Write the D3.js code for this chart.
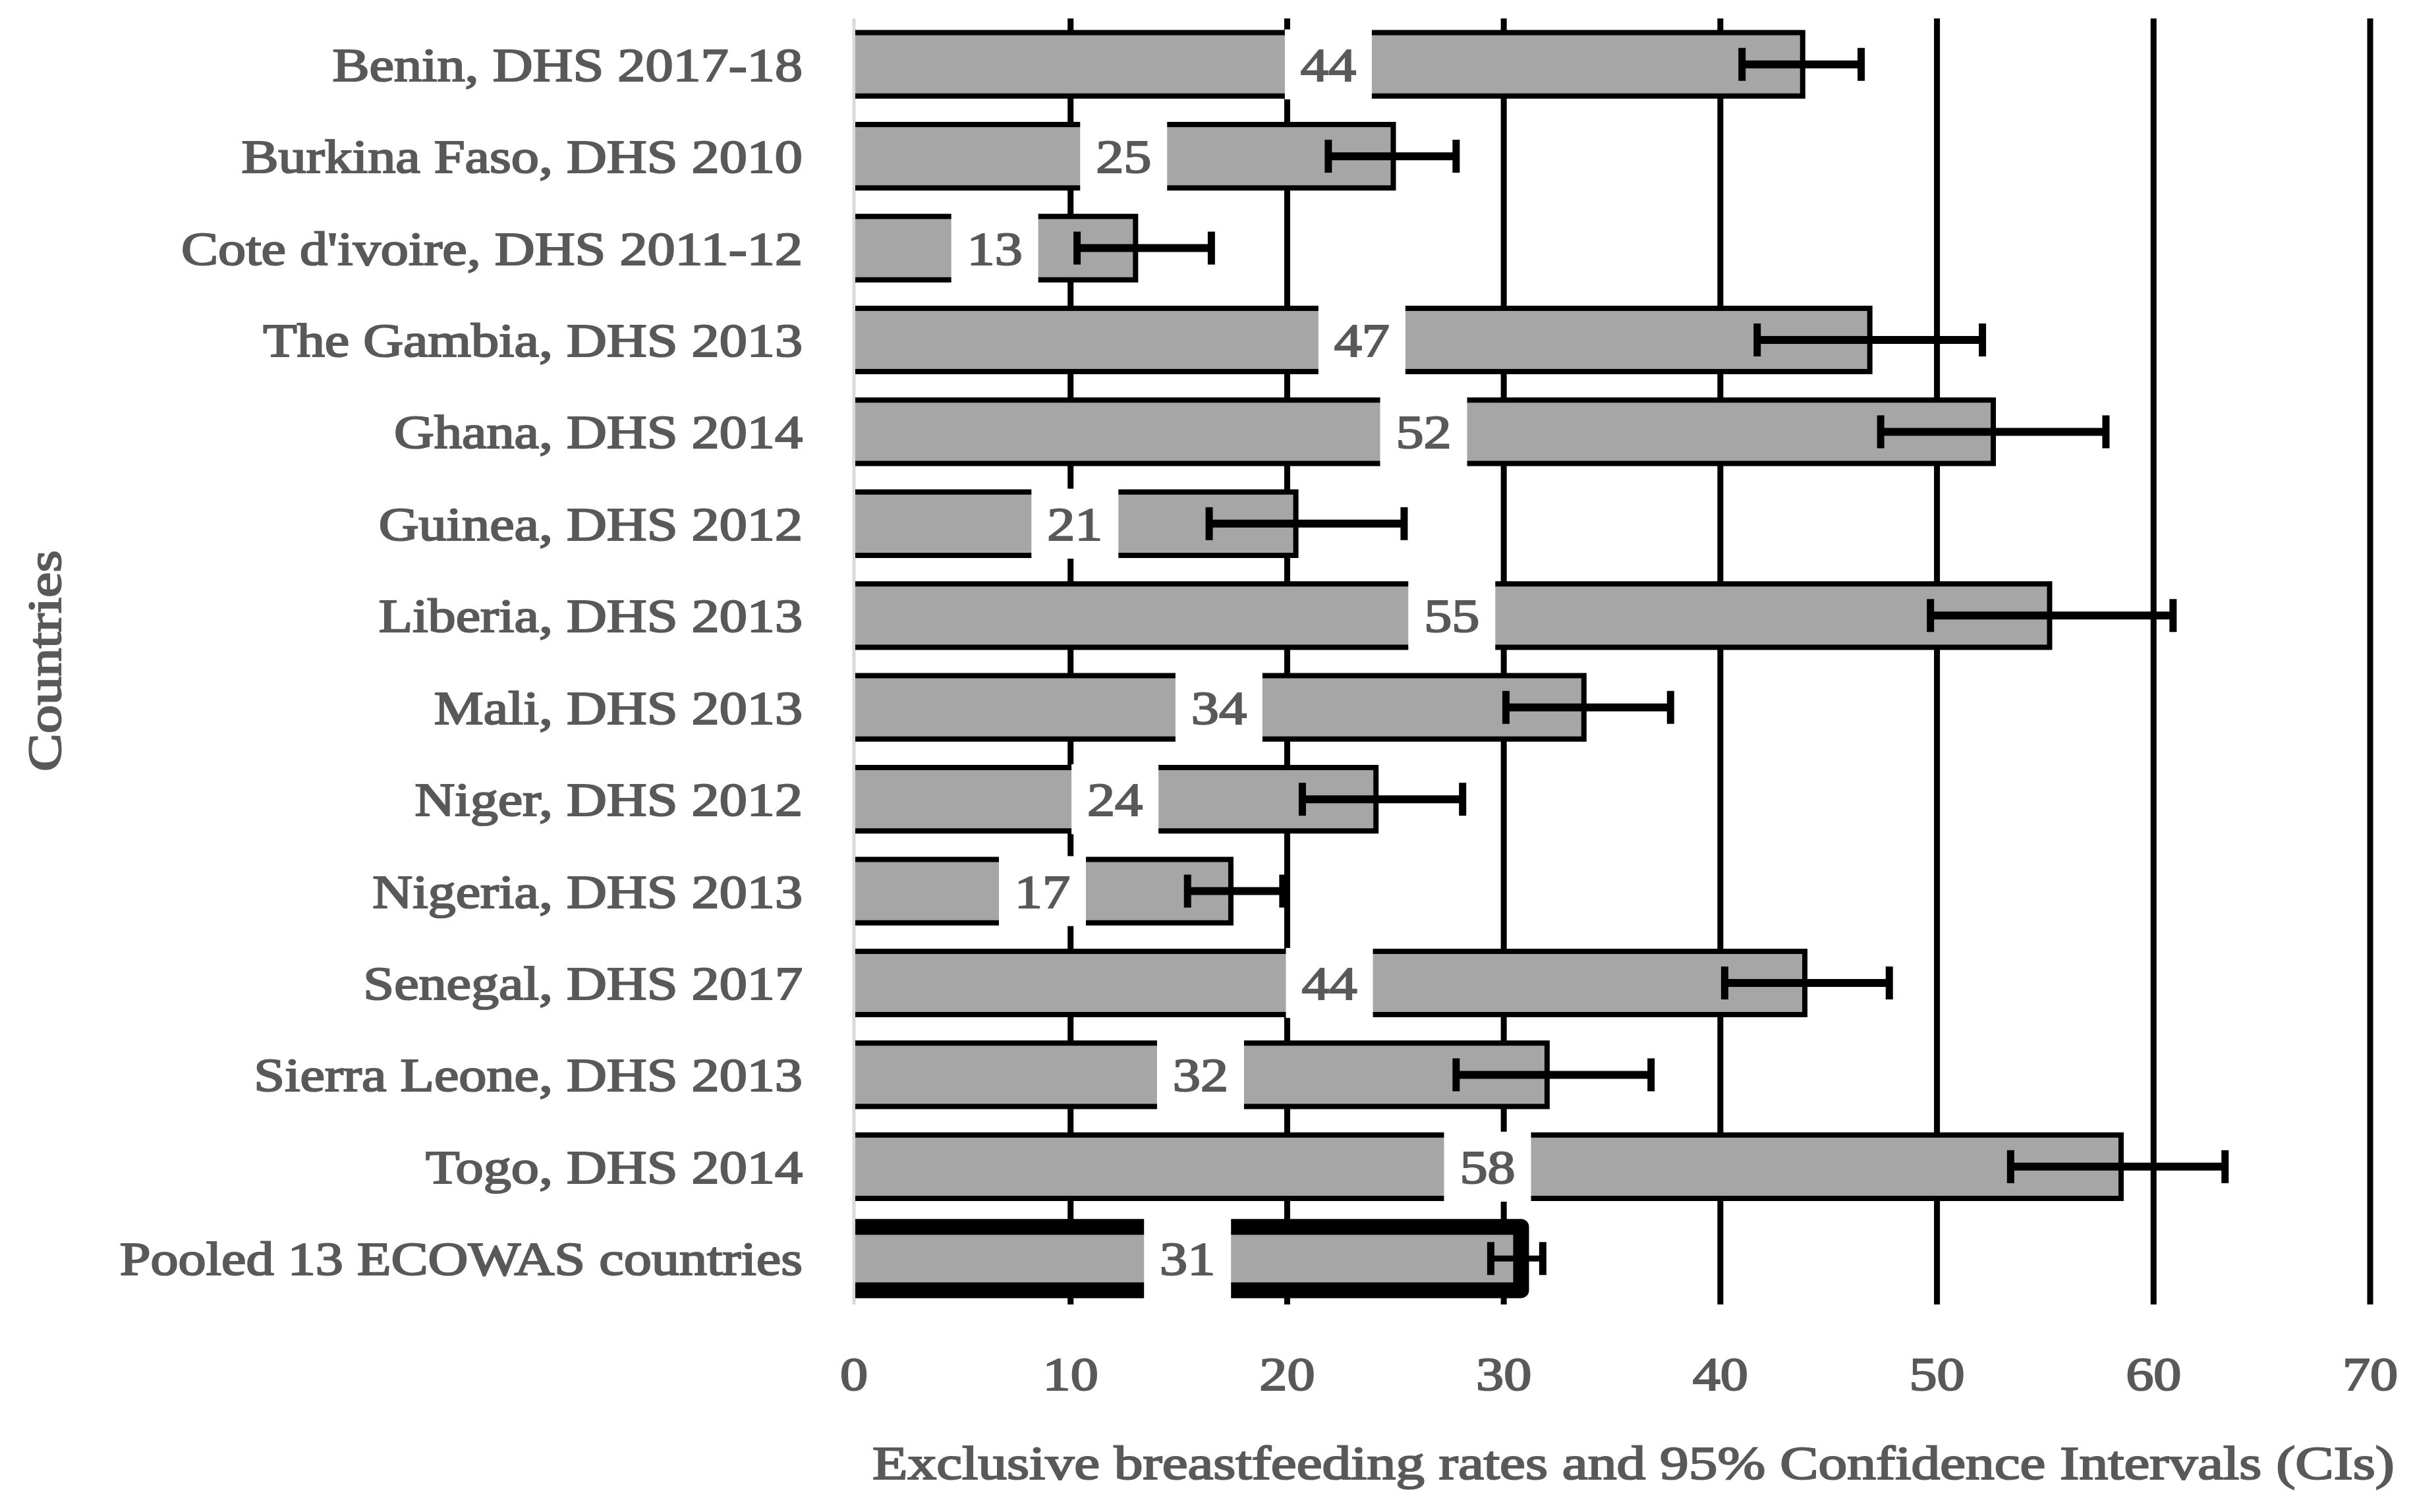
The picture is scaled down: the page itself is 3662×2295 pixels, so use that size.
<!DOCTYPE html>
<html>
<head>
<meta charset="utf-8">
<script src="https://cdn.jsdelivr.net/npm/d3@7"></script>
<style>
  html, body { margin: 0; padding: 0; background: #fff; }
  svg { display: block; }
  text { font-family: "Liberation Serif", "Times New Roman", serif; fill: #595959; stroke: #595959; stroke-width: 2.2px; }
</style>
</head>
<body>
<svg id="chart" width="3662" height="2295"></svg>
<script>
const categories = [
  "Benin, DHS 2017-18",
  "Burkina Faso, DHS 2010",
  "Cote d'ivoire, DHS 2011-12",
  "The Gambia, DHS 2013",
  "Ghana, DHS 2014",
  "Guinea, DHS 2012",
  "Liberia, DHS 2013",
  "Mali, DHS 2013",
  "Niger, DHS 2012",
  "Nigeria, DHS 2013",
  "Senegal, DHS 2017",
  "Sierra Leone, DHS 2013",
  "Togo, DHS 2014",
  "Pooled 13 ECOWAS countries"
];
const rates    = [43.8, 24.9, 13.0, 46.9, 52.6, 20.4, 55.2, 33.7, 24.1, 17.4, 43.9, 32.0, 58.5, 30.8];
const rateLabels = ["44", "25", "13", "47", "52", "21", "55", "34", "24", "17", "44", "32", "58", "31"];
const ciLower  = [41.0, 21.9, 10.3, 41.7, 47.4, 16.4, 49.7, 30.1, 20.7, 15.4, 40.2, 27.8, 53.4, 29.4];
const ciUpper  = [46.5, 27.8, 16.5, 52.1, 57.8, 25.4, 60.9, 37.7, 28.1, 19.8, 47.8, 36.8, 63.3, 31.8];
const xTicks   = [0, 10, 20, 30, 40, 50, 60, 70];
const xTitle = "Exclusive breastfeeding rates and 95% Confidence Intervals (CIs)";
const yTitle = "Countries";

const data = categories.map((c, i) => ({
  cat: c, v: rates[i], label: rateLabels[i], lo: ciLower[i], hi: ciUpper[i],
  pooled: i === categories.length - 1
}));

const svg = d3.select("#chart");
const STRETCH = 1.17;
const FS = 72;

const x = d3.scaleLinear().domain([0, 70]).range([1296, 3597]);
const y = d3.scaleBand().domain(categories).range([28, 1980]).paddingInner(0.31).paddingOuter(0.155);
const bw = y.bandwidth();
const plotTop = y.range()[0], plotBottom = y.range()[1];

// zero axis line (light gray)
svg.append("line")
  .attr("x1", x(0)).attr("x2", x(0))
  .attr("y1", plotTop).attr("y2", plotBottom)
  .attr("stroke", "#d9d9d9").attr("stroke-width", 5);

// gridlines (behind bars)
svg.append("g").selectAll("line")
  .data(xTicks.filter(t => t > 0))
  .join("line")
  .attr("x1", d => x(d)).attr("x2", d => x(d))
  .attr("y1", plotTop).attr("y2", plotBottom)
  .attr("stroke", "#000").attr("stroke-width", 9);

// bars
const bars = svg.append("g");
bars.selectAll("rect")
  .data(data)
  .join("rect")
  .attr("x", x(0) + 2)
  .attr("y", d => y(d.cat))
  .attr("width", d => x(d.v) - x(0) - 2)
  .attr("height", bw)
  .attr("fill", "#a6a6a6");

bars.selectAll("path")
  .data(data)
  .join("path")
  .attr("d", d => {
    const y0 = y(d.cat), y1 = y(d.cat) + bw;
    return `M${x(0) + 2},${y0} H${x(d.v)} V${y1} H${x(0) + 2}`;
  })
  .attr("fill", "none")
  .attr("stroke", "#000")
  .attr("stroke-width", d => d.pooled ? 24 : 8)
  .attr("stroke-linejoin", d => d.pooled ? "round" : "miter");

// error bars
const eb = svg.append("g");
eb.selectAll("line.ci")
  .data(data)
  .join("line")
  .attr("class", "ci")
  .attr("x1", d => x(d.lo)).attr("x2", d => x(d.hi))
  .attr("y1", d => y(d.cat) + bw / 2).attr("y2", d => y(d.cat) + bw / 2)
  .attr("stroke", "#000").attr("stroke-width", d => d.pooled ? 9 : 12);
eb.selectAll("line.capL")
  .data(data)
  .join("line")
  .attr("class", "capL")
  .attr("x1", d => x(d.lo)).attr("x2", d => x(d.lo))
  .attr("y1", d => y(d.cat) + bw / 2 - 25).attr("y2", d => y(d.cat) + bw / 2 + 25)
  .attr("stroke", "#000").attr("stroke-width", 11);
eb.selectAll("line.capR")
  .data(data)
  .join("line")
  .attr("class", "capR")
  .attr("x1", d => x(d.hi)).attr("x2", d => x(d.hi))
  .attr("y1", d => y(d.cat) + bw / 2 - 25).attr("y2", d => y(d.cat) + bw / 2 + 25)
  .attr("stroke", "#000").attr("stroke-width", 11);

// value labels with white boxes
const lab = svg.append("g");
lab.selectAll("rect")
  .data(data)
  .join("rect")
  .attr("x", d => x(d.v / 2) - 66)
  .attr("y", d => y(d.cat) - (d.pooled ? 13 : 5))
  .attr("width", 132)
  .attr("height", d => bw + (d.pooled ? 26 : 10))
  .attr("fill", "#fff");
lab.selectAll("text")
  .data(data)
  .join("text")
  .attr("transform", d => `translate(${x(d.v / 2)},${y(d.cat) + bw / 2 + 25}) scale(${STRETCH},1)`)
  .attr("text-anchor", "middle")
  .attr("font-size", FS)
  .text(d => d.label);

// category labels
svg.append("g").selectAll("text")
  .data(data)
  .join("text")
  .attr("transform", d => `translate(1218,${y(d.cat) + bw / 2 + 25}) scale(${STRETCH},1)`)
  .attr("text-anchor", "end")
  .attr("font-size", FS)
  .text(d => d.cat);

// x tick labels
svg.append("g").selectAll("text")
  .data(xTicks)
  .join("text")
  .attr("transform", d => `translate(${x(d)},2110) scale(${STRETCH},1)`)
  .attr("text-anchor", "middle")
  .attr("font-size", FS)
  .text(d => d);

// x title
svg.append("text")
  .attr("transform", `translate(2479,2245) scale(1.215,1)`)
  .attr("text-anchor", "middle")
  .attr("font-size", FS)
  .text(xTitle);

// y title
svg.append("text")
  .attr("transform", `translate(92,1003) rotate(-90) scale(1.2,1)`)
  .attr("text-anchor", "middle")
  .attr("font-size", FS)
  .text(yTitle);
</script>
</body>
</html>
